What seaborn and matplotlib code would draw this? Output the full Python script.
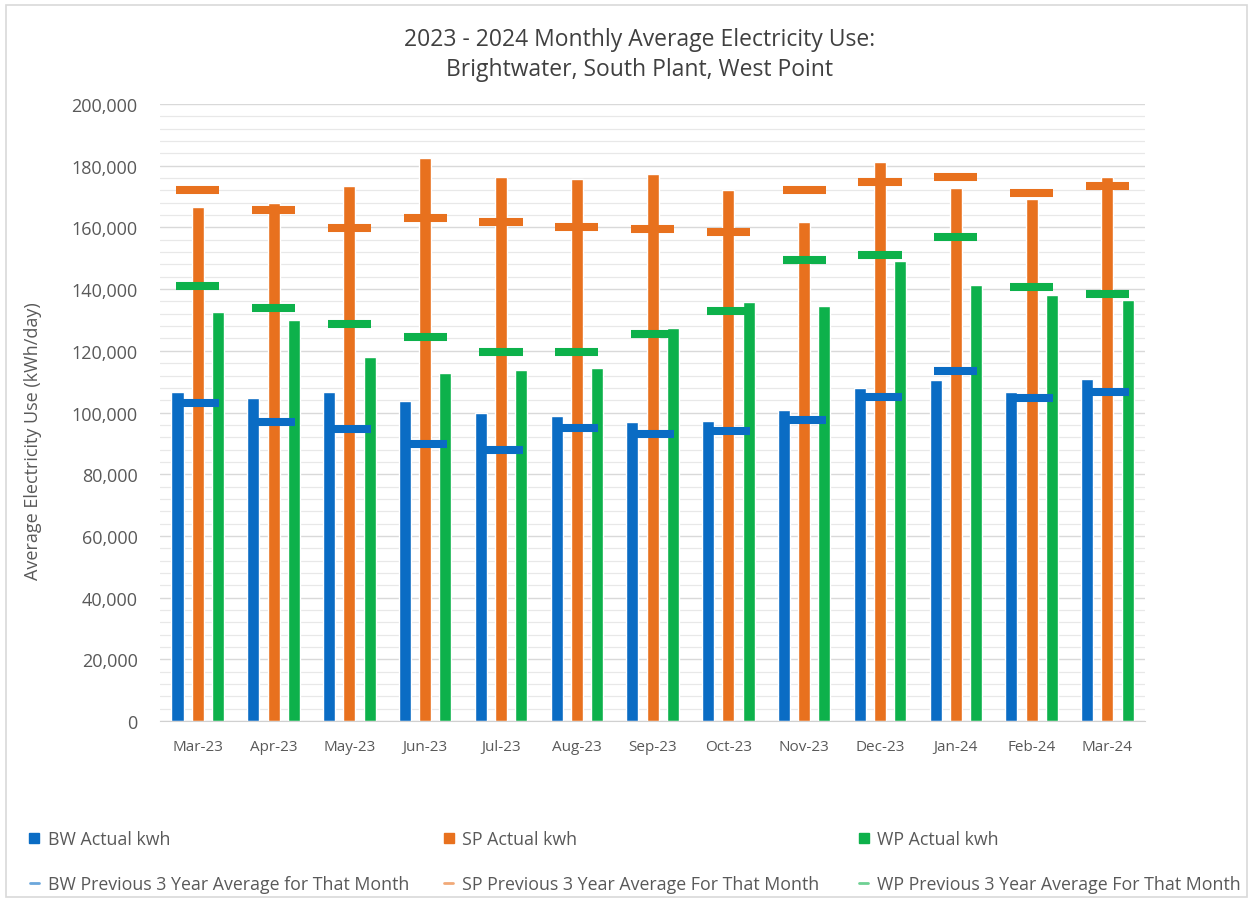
import numpy as np
import pandas as pd
import matplotlib
matplotlib.use("Agg")
import matplotlib.pyplot as plt
from matplotlib.lines import Line2D
from matplotlib.patches import Rectangle
from matplotlib.ticker import FuncFormatter, MultipleLocator
import seaborn as sns

# 数据
months = ["Mar-23", "Apr-23", "May-23", "Jun-23", "Jul-23", "Aug-23", "Sep-23",
          "Oct-23", "Nov-23", "Dec-23", "Jan-24", "Feb-24", "Mar-24"]

bw_actual = [106700, 104600, 106700, 103800, 99700, 99000, 96800,
             97300, 100900, 107800, 110600, 106700, 111000]
sp_actual = [166700, 167800, 173400, 182400, 176200, 175700, 177300,
             172100, 161600, 181100, 172800, 169200, 176400]
wp_actual = [132500, 130000, 117900, 112700, 113900, 114300, 127400,
             135700, 134600, 149200, 141400, 138100, 136500]

bw_avg = [103100, 97000, 94700, 89800, 88000, 94900, 93000,
          93900, 97500, 105100, 113300, 104700, 106500]
sp_avg = [172200, 165700, 159700, 162900, 161900, 160000, 159400,
          158600, 172200, 174600, 176400, 171000, 173500]
wp_avg = [141100, 134000, 128600, 124400, 119500, 119500, 125300,
          132800, 149300, 151100, 156800, 140800, 138300]

series = ["BW Actual kwh", "SP Actual kwh", "WP Actual kwh"]
avg_labels = ["BW Previous 3 Year Average for That Month",
              "SP Previous 3 Year Average For That Month",
              "WP Previous 3 Year Average For That Month"]
colors = ["#0a6cc4", "#e8711e", "#0db14b"]

df = pd.DataFrame({
    "month": months * 3,
    "series": np.repeat(series, len(months)),
    "kwh": bw_actual + sp_actual + wp_actual,
})

sns.set_style("white")
plt.rcParams["font.family"] = ["Open Sans", "DejaVu Sans"]

fig = plt.figure(figsize=(12.49, 9.03), dpi=100)
ax = fig.add_axes([0.128, 0.2004, 0.789, 0.6833])

sns.barplot(data=df, x="month", y="kwh", hue="series", order=months,
            hue_order=series, palette=colors, width=0.8, gap=0.4,
            saturation=1, legend=False, ax=ax, zorder=2)

# 前三年平均值（横线）
xs = np.arange(len(months))
for vals, c in zip([bw_avg, sp_avg, wp_avg], colors):
    ax.hlines(vals, xs - 0.285, xs + 0.285, colors=c, linewidth=5.8, zorder=3)

ax.set_xlim(-0.5, len(months) - 0.5)
ax.set_ylim(0, 200000)
ax.yaxis.set_major_locator(MultipleLocator(20000))
ax.yaxis.set_minor_locator(MultipleLocator(4000))
ax.yaxis.set_major_formatter(FuncFormatter(lambda v, p: f"{v:,.0f}"))
ax.grid(axis="y", which="major", color="#d9d9d9", linewidth=1.0, zorder=0)
ax.grid(axis="y", which="minor", color="#e8e8e8", linewidth=0.9, zorder=0)
ax.set_axisbelow(True)

ax.set_xticks(np.arange(-0.5, len(months), 1.0), minor=True)
ax.tick_params(axis="x", which="minor", length=6, color="#d0d0d0", width=1)
ax.tick_params(axis="x", which="major", length=0, labelsize=11,
               labelcolor="#595959", pad=13)
ax.tick_params(axis="y", which="both", length=0, labelsize=13,
               labelcolor="#595959", pad=16)

for s in ["top", "right", "left"]:
    ax.spines[s].set_visible(False)
ax.spines["bottom"].set_color("#d0d0d0")

ax.set_xlabel("")
ax.set_ylabel("Average Electricity Use (kWh/day)", fontsize=13,
              color="#595959")
ax.yaxis.set_label_coords(-0.12, 0.455)

fig.text(0.512, 0.956, "2023 - 2024 Monthly Average Electricity Use:",
         ha="center", va="center", fontsize=16.5, color="#404040")
fig.text(0.512, 0.923, "Brightwater, South Plant, West Point",
         ha="center", va="center", fontsize=16.5, color="#404040")

# 图例：三组，每组两行
legend_x = [0.011, 0.343, 0.675]
for i in range(3):
    handles = [
        Line2D([], [], linestyle="none", marker="s", markersize=6.5,
               color=colors[i]),
        Line2D([0, 1], [0, 0], color=colors[i], linewidth=2, alpha=0.6),
    ]
    fig.legend(handles, [series[i], avg_labels[i]], loc="upper left",
               bbox_to_anchor=(legend_x[i], 0.097), frameon=False,
               fontsize=12.8, labelcolor="#595959", handlelength=0.5,
               handletextpad=0.5, labelspacing=1.5)

fig.patches.append(Rectangle((0.005, 0.005), 0.993, 0.988,
                             transform=fig.transFigure, fill=False,
                             edgecolor="#d9d9d9", linewidth=1.2))

fig.savefig("out.png", dpi=100, facecolor="white")
